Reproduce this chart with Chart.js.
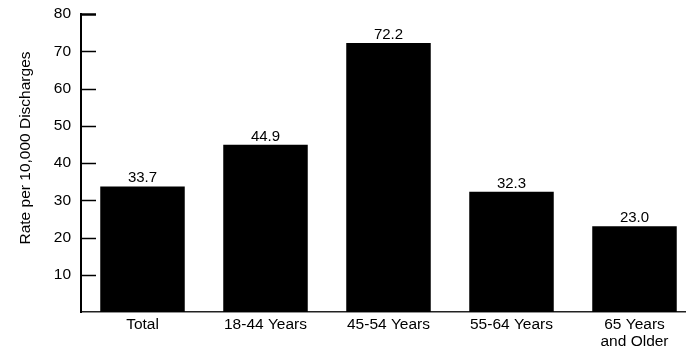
<!DOCTYPE html>
<html>
<head>
<meta charset="utf-8">
<script src="https://cdn.jsdelivr.net/npm/chart.js@4"></script>
<style>
html,body{margin:0;padding:0;background:#fff;overflow:hidden;}
#wrap{width:686px;height:351px;overflow:hidden;position:relative;}
#box{width:700px;height:351px;position:absolute;left:0;top:0;}
</style>
</head>
<body>
<div id="wrap"><div id="box"><canvas id="c"></canvas></div></div>
<script>
const categories = ["Total", "18-44 Years", "45-54 Years", "55-64 Years", ["65 Years", "and Older"]];
const rates = [33.7, 44.9, 72.2, 32.3, 23.0];
const yTicks = [10, 20, 30, 40, 50, 60, 70, 80];
const yTitle = "Rate per 10,000 Discharges";

const FONT = "'Liberation Sans', Arial, sans-serif";

const innerTicks = {
  id: 'innerTicks',
  afterDraw(chart) {
    const y = chart.scales.y;
    const ctx = chart.ctx;
    ctx.save();
    ctx.strokeStyle = '#000';
    yTicks.forEach(v => {
      const py = Math.round(y.getPixelForValue(v)) + 0.5;
      ctx.lineWidth = v === 80 ? 2.5 : 1.5;
      ctx.beginPath();
      ctx.moveTo(y.right - 1, py);
      ctx.lineTo(y.right + 15, py);
      ctx.stroke();
    });
    ctx.fillStyle = '#000';
    ctx.font = '15.5px ' + FONT;
    ctx.translate(26, 148);
    ctx.rotate(-Math.PI / 2);
    ctx.textAlign = 'center';
    ctx.textBaseline = 'middle';
    ctx.fillText(yTitle, 0, 0);
    ctx.restore();
  }
};

const valueLabels = {
  id: 'valueLabels',
  afterDatasetsDraw(chart) {
    const ctx = chart.ctx;
    const meta = chart.getDatasetMeta(0);
    ctx.save();
    ctx.fillStyle = '#000';
    ctx.font = '15px ' + FONT;
    ctx.textAlign = 'center';
    ctx.textBaseline = 'alphabetic';
    meta.data.forEach((bar, i) => {
      ctx.fillText(rates[i].toFixed(1), bar.x, bar.y - 4);
    });
    ctx.restore();
  }
};

new Chart(document.getElementById('c'), {
  type: 'bar',
  data: {
    labels: categories,
    datasets: [{
      data: rates,
      backgroundColor: '#000',
      borderWidth: 0,
      barPercentage: 0.687,
      categoryPercentage: 1.0
    }]
  },
  options: {
    responsive: true,
    maintainAspectRatio: false,
    animation: false,
    events: [],
    layout: { padding: { top: 14, right: 4, left: 0, bottom: 0 } },
    plugins: { legend: { display: false }, tooltip: { enabled: false } },
    scales: {
      x: {
        grid: { display: false, drawTicks: false },
        border: { display: true, color: '#222', width: 1.5 },
        ticks: { color: '#000', font: { family: FONT, size: 15.5, lineHeight: 1.05 }, padding: 5, maxRotation: 0, autoSkip: false },
        afterFit(s) { s.height = 39; s.paddingLeft = 0; s.paddingRight = 0; }
      },
      y: {
        min: 0, max: 80,
        grid: { display: false, drawTicks: false },
        border: { display: true, color: '#000', width: 2 },
        ticks: {
          stepSize: 10, color: '#000', padding: 10,
          font: { family: FONT, size: 15.5 },
          callback: v => (yTicks.includes(v) ? String(v) : '')
        },
        title: { display: false },
        afterFit(s) { s.width = 81; s.paddingTop = 0; s.paddingBottom = 0; }
      }
    }
  },
  plugins: [innerTicks, valueLabels]
});
</script>
</body>
</html>
